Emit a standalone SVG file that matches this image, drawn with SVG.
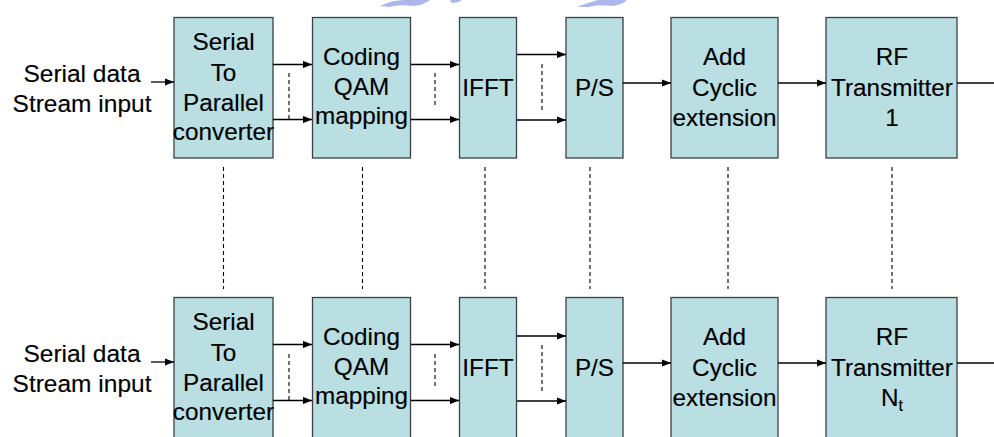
<svg xmlns="http://www.w3.org/2000/svg" width="994" height="437" viewBox="0 0 994 437">
  <style>
    .box { fill: #b9dfe2; stroke: #3a4046; stroke-width: 1.3; }
    .lbl { font-family: "Liberation Sans", Arial, sans-serif; font-size: 24.3px; fill: #000; text-anchor: middle; stroke: #000; stroke-width: 0.15; }
    .in { font-family: "Liberation Sans", Arial, sans-serif; font-size: 24.5px; fill: #000; text-anchor: middle; stroke: #000; stroke-width: 0.15; }
    .wire { stroke: #000; stroke-width: 1.3; fill: none; }
    .arr { stroke: #000; stroke-width: 1.3; fill: none; marker-end: url(#head); }
    .dash { stroke: #000; stroke-width: 1.1; stroke-dasharray: 4 3; fill: none; }
    .logo { fill: #9fa9e6; opacity: 0.85; }
  </style>
  <defs>
    <marker id="head" viewBox="0 0 10 8" refX="10" refY="4" markerWidth="9" markerHeight="7.2" markerUnits="userSpaceOnUse" orient="auto">
      <path d="M0,0 L10,4 L0,8 Z" fill="#000"/>
    </marker>
  </defs>
  <rect width="994" height="437" fill="#fff"/>

  <!-- faint emblem fragments along the top edge -->
  <g id="emblem">
    <path class="logo" d="M380,6 Q392,0 404,0 L430,0 Q424,5 414,6 Q398,4 390,7 Z"/>
    <path class="logo" d="M450,0 L462,0 Q458,3 452,3 Z"/>
    <path class="logo" d="M577,7 Q590,2 598,0 L627,0 Q622,5 612,6 Q598,4 588,7 Z"/>
  </g>

  <!-- upper chain -->
  <g id="input-1"><text class="in" x="82" y="82">Serial data</text><text class="in" x="82" y="112">Stream input</text></g>
  <g id="sp-1"><rect class="box" x="174" y="17.5" width="99" height="140.5"/>
    <text class="lbl" x="223.5" y="50">Serial</text><text class="lbl" x="223.5" y="81">To</text><text class="lbl" x="223.5" y="111">Parallel</text><text class="lbl" x="223.5" y="140">converter</text></g>
  <g id="qam-1"><rect class="box" x="312.5" y="17.5" width="98" height="140.5"/>
    <text class="lbl" x="361.5" y="65">Coding</text><text class="lbl" x="361.5" y="95">QAM</text><text class="lbl" x="361.5" y="124">mapping</text></g>
  <g id="ifft-1"><rect class="box" x="459.5" y="17.5" width="57" height="140.5"/>
    <text class="lbl" x="488" y="96">IFFT</text></g>
  <g id="ps-1"><rect class="box" x="566" y="17.5" width="57" height="140.5"/>
    <text class="lbl" x="594.5" y="96">P/S</text></g>
  <g id="cp-1"><rect class="box" x="671" y="17.5" width="107" height="140.5"/>
    <text class="lbl" x="724.5" y="65">Add</text><text class="lbl" x="724.5" y="96">Cyclic</text><text class="lbl" x="724.5" y="126">extension</text></g>
  <g id="rf-1"><rect class="box" x="826" y="17.5" width="131" height="140.5"/>
    <text class="lbl" x="892" y="65">RF</text><text class="lbl" x="892" y="96">Transmitter</text><text class="lbl" x="892" y="126">1</text></g>

  <!-- lower chain -->
  <g id="input-n"><text class="in" x="82" y="362">Serial data</text><text class="in" x="82" y="392">Stream input</text></g>
  <g id="sp-n"><rect class="box" x="174" y="297.5" width="99" height="145"/>
    <text class="lbl" x="223.5" y="330">Serial</text><text class="lbl" x="223.5" y="361">To</text><text class="lbl" x="223.5" y="391">Parallel</text><text class="lbl" x="223.5" y="420">converter</text></g>
  <g id="qam-n"><rect class="box" x="312.5" y="297.5" width="98" height="145"/>
    <text class="lbl" x="361.5" y="345">Coding</text><text class="lbl" x="361.5" y="375">QAM</text><text class="lbl" x="361.5" y="404">mapping</text></g>
  <g id="ifft-n"><rect class="box" x="459.5" y="297.5" width="57" height="145"/>
    <text class="lbl" x="488" y="376">IFFT</text></g>
  <g id="ps-n"><rect class="box" x="566" y="297.5" width="57" height="145"/>
    <text class="lbl" x="594.5" y="376">P/S</text></g>
  <g id="cp-n"><rect class="box" x="671" y="297.5" width="107" height="145"/>
    <text class="lbl" x="724.5" y="345">Add</text><text class="lbl" x="724.5" y="376">Cyclic</text><text class="lbl" x="724.5" y="406">extension</text></g>
  <g id="rf-n"><rect class="box" x="826" y="297.5" width="131" height="145"/>
    <text class="lbl" x="892" y="345">RF</text><text class="lbl" x="892" y="376">Transmitter</text><text class="lbl" x="892" y="406">N<tspan font-size="16" dy="5">t</tspan></text></g>

  <g id="connectors">
    <!-- upper chain links -->
    <line class="arr" x1="151" y1="82" x2="174" y2="82"/>
    <line class="arr" x1="273" y1="64.5" x2="312" y2="64.5"/>
    <line class="arr" x1="273" y1="119.5" x2="312" y2="119.5"/>
    <line class="arr" x1="411" y1="64.5" x2="459" y2="64.5"/>
    <line class="arr" x1="411" y1="119.5" x2="459" y2="119.5"/>
    <line class="arr" x1="517" y1="54.5" x2="566" y2="54.5"/>
    <line class="arr" x1="517" y1="120" x2="566" y2="120"/>
    <line class="arr" x1="623" y1="83" x2="671" y2="83"/>
    <line class="arr" x1="778" y1="83" x2="826" y2="83"/>
    <line class="wire" x1="957" y1="83" x2="994" y2="83"/>
    <line class="dash" x1="289" y1="73" x2="289" y2="119"/>
    <line class="dash" x1="435" y1="73" x2="435" y2="107"/>
    <line class="dash" x1="542" y1="64" x2="542" y2="111"/>

    <!-- lower chain links -->
    <line class="arr" x1="151" y1="362" x2="174" y2="362"/>
    <line class="arr" x1="273" y1="344.5" x2="312" y2="344.5"/>
    <line class="arr" x1="273" y1="400.5" x2="312" y2="400.5"/>
    <line class="arr" x1="411" y1="344.5" x2="459" y2="344.5"/>
    <line class="arr" x1="411" y1="400.5" x2="459" y2="400.5"/>
    <line class="arr" x1="517" y1="336" x2="566" y2="336"/>
    <line class="arr" x1="517" y1="401" x2="566" y2="401"/>
    <line class="arr" x1="623" y1="363" x2="671" y2="363"/>
    <line class="arr" x1="778" y1="363" x2="826" y2="363"/>
    <line class="wire" x1="957" y1="363" x2="994" y2="363"/>
    <line class="dash" x1="289" y1="354" x2="289" y2="400"/>
    <line class="dash" x1="435" y1="354" x2="435" y2="388"/>
    <line class="dash" x1="542" y1="345" x2="542" y2="392"/>

    <!-- stacking between chains -->
    <line class="dash" x1="223.5" y1="167" x2="223.5" y2="289"/>
    <line class="dash" x1="362.5" y1="167" x2="362.5" y2="289"/>
    <line class="dash" x1="485" y1="167" x2="485" y2="289"/>
    <line class="dash" x1="590" y1="167" x2="590" y2="289"/>
    <line class="dash" x1="728" y1="167" x2="728" y2="289"/>
    <line class="dash" x1="892" y1="167" x2="892" y2="289"/>
  </g>
</svg>
